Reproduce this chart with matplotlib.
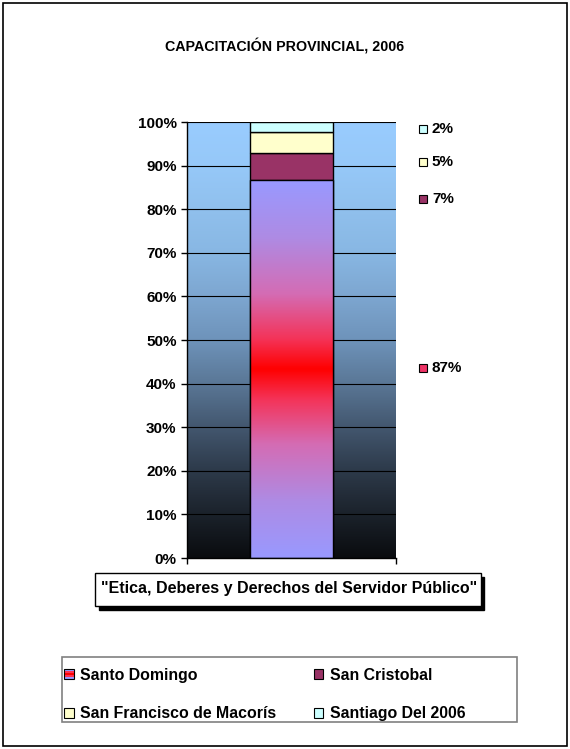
import matplotlib
matplotlib.use("Agg")
import matplotlib.pyplot as plt
import numpy as np
from matplotlib.patches import Rectangle, Patch
from matplotlib.legend_handler import HandlerBase
from matplotlib.colors import LinearSegmentedColormap

plt.rcParams['font.family'] = ['Liberation Sans', 'DejaVu Sans']
plt.rcParams['font.weight'] = 'bold'

# data
provinces = ["Santo Domingo", "San Cristobal", "San Francisco de Macorís", "Santiago Del 2006"]
shares = [86.6, 6.4, 4.8, 2.2]          # percent of trainees
share_labels = ["87%", "7%", "5%", "2%"]
label_y = [43.6, 82.3, 90.8, 98.4]      # where Excel placed the data labels
category = '"Etica, Deberes y Derechos del Servidor Público"'
colors = ["#FF0000", "#993366", "#FFFFCC", "#CCFFFF"]

W, H = 570, 749
fig = plt.figure(figsize=(W / 100, H / 100), dpi=100, facecolor="white")

# outer frame
fig.patches.append(Rectangle((3 / W, 3 / H), 564 / W, 743 / H, transform=fig.transFigure,
                             fill=False, edgecolor="black", linewidth=1.2))

fig.text(0.5, 1 - 46 / H, "CAPACITACIÓN PROVINCIAL, 2006", ha="center", va="center",
         fontsize=10.3, fontweight="bold")

ax = fig.add_axes([187 / W, 1 - 558 / H, 209 / W, 436 / H])

# plot area gradient: light blue at top to almost black at bottom
bg = LinearSegmentedColormap.from_list("bg", [
    (0.0, "#0A0C0F"), (0.1, "#1B222B"), (0.2, "#2D3A4A"), (0.3, "#43576F"),
    (0.4, "#5A7796"), (0.5, "#6E93BA"), (0.6, "#7DA6D0"), (0.7, "#88B7E3"),
    (0.8, "#90C0ED"), (0.9, "#96C8F8"), (1.0, "#99CCFF")])
ax.imshow(np.linspace(0, 1, 256).reshape(-1, 1), cmap=bg, origin="lower",
          extent=[0, 1, 0, 1], transform=ax.transAxes, aspect="auto", zorder=0)

ax.set_xlim(-0.5, 0.5)
ax.set_ylim(0, 100)
ax.yaxis.grid(True, color="black", linewidth=0.8, zorder=1)
ax.set_axisbelow(False)

bottom = 0
bars = []
for i, (name, v) in enumerate(zip(provinces, shares)):
    b = ax.bar(0, v, width=0.4, bottom=bottom, color=colors[i], edgecolor="black",
               linewidth=1, zorder=3)
    bars.append(b[0])
    bottom += v

# Santo Domingo gradient fill: lavender - red - lavender
sd = bars[0]
grad = LinearSegmentedColormap.from_list("sd", [
    (0.0, "#9999FF"), (0.15, "#AE8BE4"), (0.3, "#D46CB4"), (0.42, "#F43358"),
    (0.5, "#FF0000"), (0.58, "#F43358"), (0.7, "#D46CB4"), (0.85, "#AE8BE4"),
    (1.0, "#9999FF")])
im = ax.imshow(np.linspace(0, 1, 256).reshape(-1, 1), cmap=grad, origin="lower",
               extent=[sd.get_x(), sd.get_x() + sd.get_width(), 0, shares[0]],
               aspect="auto", zorder=3.5)
im.set_clip_path(sd)
ax.bar(0, shares[0], width=0.4, fill=False, edgecolor="black", linewidth=1, zorder=4)
ax.set_xlim(-0.5, 0.5)
ax.set_ylim(0, 100)

ax.set_yticks(range(0, 101, 10))
ax.set_yticklabels([f"{t}%" for t in range(0, 101, 10)], fontsize=11, fontweight="bold")
ax.set_xticks([-0.5, 0.5])
ax.set_xticklabels([])
ax.tick_params(direction="out", length=4, width=1, color="black")
for s in ["top", "right"]:
    ax.spines[s].set_visible(False)
for s in ["left", "bottom"]:
    ax.spines[s].set_linewidth(1)
    ax.spines[s].set_zorder(5)

# data labels with legend keys, right of plot
for i, (lab, y) in enumerate(zip(share_labels, label_y)):
    fc = "#EE3366" if i == 0 else colors[i]
    ax.plot(1.13, y, marker="s", markersize=6, markerfacecolor=fc, markeredgecolor="black",
            markeredgewidth=0.8, transform=ax.get_yaxis_transform(), clip_on=False)
    ax.text(1.172, y, lab, transform=ax.get_yaxis_transform(), va="center", ha="left",
            fontsize=11, fontweight="bold")

# category label box with shadow
fig.patches.append(Rectangle((99 / W, 1 - 610 / H), 385 / W, 33 / H, transform=fig.transFigure,
                             facecolor="black", edgecolor="black"))
fig.patches.append(Rectangle((95 / W, 1 - 606 / H), 386 / W, 33 / H, transform=fig.transFigure,
                             facecolor="white", edgecolor="black", linewidth=1))
fig.text(289 / W, 1 - 589 / H, category, ha="center", va="center", fontsize=11.5,
         fontweight="bold")


class GradientKey(HandlerBase):
    def create_artists(self, legend, orig, xd, yd, w, h, fontsize, trans):
        arts = []
        strips = ["#9999FF", "#FF3355", "#FF0000", "#FF3355", "#9999FF"]
        for k, c in enumerate(strips):
            arts.append(Rectangle((-xd, -yd + h * k / len(strips)), w, h / len(strips),
                                  facecolor=c, edgecolor="none", transform=trans))
        arts.append(Rectangle((-xd, -yd), w, h, fill=False, edgecolor="black",
                              linewidth=0.8, transform=trans))
        return arts


# legend frame
fig.patches.append(Rectangle((62 / W, 1 - 722 / H), 455 / W, 65 / H, transform=fig.transFigure,
                             fill=False, edgecolor="#808080", linewidth=1.2))

handles = [Patch(facecolor=c, edgecolor="black", linewidth=0.8) for c in colors]
order = [0, 2, 1, 3]  # matplotlib fills columns first; Excel fills rows
fig.legend([handles[k] for k in order], [provinces[k] for k in order], ncol=2,
           loc="center left", bbox_to_anchor=(64 / W, 1 - 694.5 / H),
           handler_map={handles[0]: GradientKey()},
           prop={"size": 11.4, "weight": "bold"}, frameon=False,
           handlelength=0.6, handleheight=0.6, handletextpad=0.4,
           labelspacing=1.5, columnspacing=2.4, borderaxespad=0, borderpad=0)

fig.savefig("out.png", dpi=100)
